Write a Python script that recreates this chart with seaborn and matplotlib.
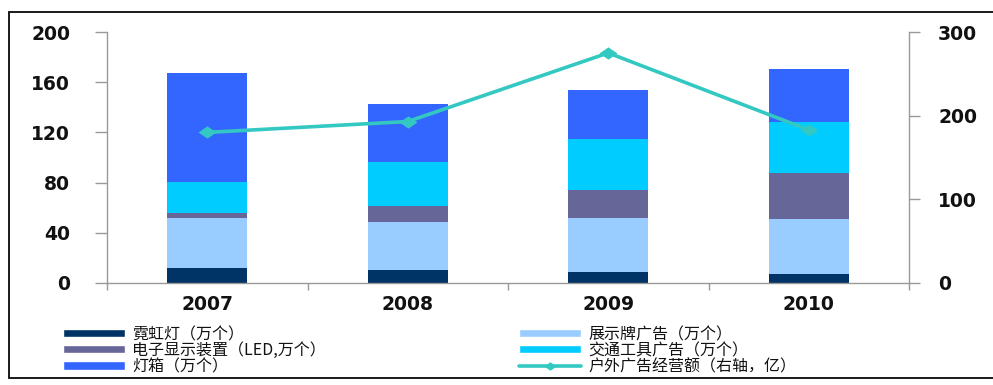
import numpy as np
import pandas as pd
import matplotlib
matplotlib.use('Agg')
import matplotlib.pyplot as plt
import seaborn as sns
from matplotlib.patches import Patch
from matplotlib.lines import Line2D
from matplotlib.ticker import FixedLocator

# ---------------- data ----------------
years = ['2007', '2008', '2009', '2010']
neon = [12, 10.5, 9, 7]                 # 霓虹灯（万个）
display_boards = [40, 38, 42.5, 44]     # 展示牌广告（万个）
led = [3.5, 13, 23, 37]                 # 电子显示装置（LED,万个）
transport = [25, 35, 40, 40.5]          # 交通工具广告（万个）
lightbox = [87, 46, 39, 42]             # 灯箱（万个）
revenue = [180, 193, 275, 183]          # 户外广告经营额（右轴，亿）

label_neon = '霓虹灯（万个）'
label_display = '展示牌广告（万个）'
label_led = '电子显示装置（LED,万个）'
label_transport = '交通工具广告（万个）'
label_lightbox = '灯箱（万个）'
label_revenue = '户外广告经营额（右轴，亿）'

left_ticks = [0, 40, 80, 120, 160, 200]
right_ticks = [0, 100, 200, 300]

# ---------------- style ----------------
sns.set_style('white')
plt.rcParams['font.family'] = ['Noto Sans CJK SC', 'DejaVu Sans']

c_neon = '#003366'
c_display = '#99CCFF'
c_led = '#666699'
c_transport = '#00CCFF'
c_lightbox = '#3366FF'
c_line = '#33C9C2'
spine_c = '#999999'

W, H = 993, 385
fig = plt.figure(figsize=(W / 100, H / 100), dpi=100)
ax = fig.add_axes([107 / W, 1 - 283 / H, (909 - 107) / W, (283 - 32) / H])

layers = [
    (neon, c_neon),
    (display_boards, c_display),
    (led, c_led),
    (transport, c_transport),
    (lightbox, c_lightbox),
]
cum = np.cumsum(np.array([l[0] for l in layers], dtype=float), axis=0)
# draw from the top layer down so that lower layers cover upper cumulative bars
for i in range(len(layers) - 1, -1, -1):
    df = pd.DataFrame({'year': years, 'value': cum[i]})
    sns.barplot(data=df, x='year', y='value', color=layers[i][1], saturation=1,
                width=0.4, ax=ax, linewidth=0, zorder=2)

ax.set_xlim(-0.5, len(years) - 0.5)
ax.set_ylim(0, 200)
ax.set_xlabel('')
ax.set_ylabel('')
ax.yaxis.set_major_locator(FixedLocator(left_ticks))

ax2 = ax.twinx()
pos = np.arange(len(years))
diamond = [(-1, 0), (0, 0.68), (1, 0), (0, -0.68), (-1, 0)]
sns.lineplot(x=pos, y=revenue, ax=ax2, color=c_line, linewidth=2.6,
             marker=diamond, markersize=13, markeredgewidth=0,
             markerfacecolor=c_line)
ax2.set_ylim(0, 300)
ax2.set_xlim(-0.5, len(years) - 0.5)
ax2.set_ylabel('')
ax2.set_xlabel('')
ax2.yaxis.set_major_locator(FixedLocator(right_ticks))

# spines
for a in (ax, ax2):
    for s in a.spines.values():
        s.set_visible(False)
ax.spines['left'].set_visible(True)
ax.spines['bottom'].set_visible(True)
ax2.spines['right'].set_visible(True)
for a, s in ((ax, 'left'), (ax, 'bottom'), (ax2, 'right')):
    a.spines[s].set_color(spine_c)
    a.spines[s].set_linewidth(1.0)

ax.tick_params(axis='y', which='major', direction='out', length=8.5, width=1,
               color=spine_c, pad=18, left=True, labelsize=13.5)
ax2.tick_params(axis='y', which='major', direction='out', length=8, width=1,
                color=spine_c, pad=13, right=True, labelsize=13.5)
for lab in ax.get_yticklabels() + ax2.get_yticklabels():
    lab.set_fontfamily('DejaVu Sans')
    lab.set_fontweight('bold')
    lab.set_color('#111111')

# x axis: labels at centers, tick marks at category boundaries
ax.xaxis.set_major_locator(FixedLocator(list(pos)))
ax.set_xticklabels(years)
ax.xaxis.set_minor_locator(FixedLocator(list(np.arange(len(years) + 1) - 0.5)))
ax.tick_params(axis='x', which='major', length=0, pad=9, labelsize=13.5)
ax.tick_params(axis='x', which='minor', direction='out', length=5, width=1,
               color=spine_c, bottom=True)
for lab in ax.get_xticklabels():
    lab.set_fontfamily('DejaVu Sans')
    lab.set_fontweight('bold')
    lab.set_color('#111111')

ax.grid(False)
ax2.grid(False)

# legends
leg_kw = dict(frameon=False, fontsize=11.5, handlelength=3.9, handleheight=0.42,
              handletextpad=0.45, labelspacing=-0.06, borderpad=0, borderaxespad=0,
              loc='upper left')
h1 = [Patch(facecolor=c_neon, label=label_neon),
      Patch(facecolor=c_led, label=label_led),
      Patch(facecolor=c_lightbox, label=label_lightbox)]
h2 = [Patch(facecolor=c_display, label=label_display),
      Patch(facecolor=c_transport, label=label_transport),
      Line2D([0], [0], color=c_line, linewidth=2.6, marker=diamond,
             markersize=9, markeredgewidth=0, label=label_revenue)]
leg1 = fig.legend(handles=h1, bbox_to_anchor=(63 / W, 1 - 326 / H), **leg_kw)
leg2 = fig.legend(handles=h2, bbox_to_anchor=(519 / W, 1 - 326 / H), **leg_kw)
for leg in (leg1, leg2):
    for t in leg.get_texts():
        t.set_color('#111111')

# outer frame (top, left, bottom)
frame_c = '#1a1a1a'
fig.add_artist(Line2D([9 / W, 1.0], [1 - 12 / H, 1 - 12 / H], color=frame_c, linewidth=1.4,
                      transform=fig.transFigure))
fig.add_artist(Line2D([9 / W, 9 / W], [1 - 12 / H, 1 - 378 / H], color=frame_c, linewidth=1.4,
                      transform=fig.transFigure))
fig.add_artist(Line2D([9 / W, 1.0], [1 - 378 / H, 1 - 378 / H], color=frame_c, linewidth=1.4,
                      transform=fig.transFigure))

fig.savefig('out.png', dpi=100)
